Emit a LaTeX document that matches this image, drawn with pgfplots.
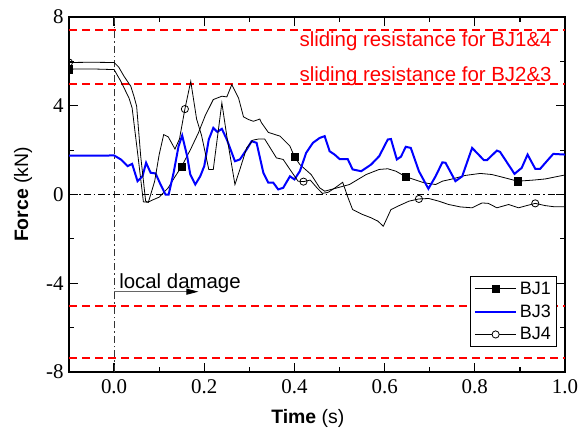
\documentclass[border=0pt]{standalone}
\usepackage{fontspec}
\setmainfont{Liberation Sans}
\newfontfamily\numfont{Liberation Serif}
\usepackage{pgfplots}
\usepackage{pgfplotstable}
\pgfplotsset{compat=1.18}
\usetikzlibrary{arrows.meta}

% Joint force histories (time in s, force in kN)
\pgfplotstableread{
t f
-0.1 5.65
-0.05 5.66
0.0 5.63
0.015 5.1
0.033 4.35
0.04 3.9
0.053 1.73
0.065 -0.33
0.075 -0.35
0.085 -0.25
0.1 -0.12
0.12 0.3
0.135 0.8
0.15 1.27
0.17 2.05
0.187 2.78
0.202 3.55
0.22 4.28
0.239 4.43
0.25 4.4
0.261 4.95
0.276 4.35
0.287 3.5
0.298 3.38
0.309 3.3
0.323 3.4
0.327 3.23
0.342 2.8
0.368 2.63
0.39 2.18
0.4 1.7
0.412 1.35
0.437 0.9
0.456 0.3
0.467 0.15
0.482 0.23
0.522 0.45
0.559 0.9
0.588 1.13
0.607 1.16
0.625 1.05
0.647 0.8
0.687 0.53
0.713 0.45
0.728 0.6
0.75 0.7
0.779 0.86
0.812 0.95
0.838 0.9
0.867 0.75
0.895 0.6
0.93 0.65
0.956 0.7
1.0 0.88
}\bjone

\pgfplotstableread{
t f
-0.1 1.75
-0.05 1.75
0.0 1.76
0.015 1.58
0.03 1.28
0.04 1.38
0.052 0.6
0.063 0.82
0.071 1.43
0.081 0.98
0.092 0.95
0.103 0.45
0.114 0.0
0.121 0.0
0.132 0.98
0.143 2.18
0.151 2.66
0.162 1.73
0.169 0.9
0.18 0.45
0.191 0.82
0.2 1.28
0.21 2.48
0.22 3.0
0.229 2.82
0.239 2.96
0.25 2.48
0.268 1.5
0.279 1.58
0.294 2.03
0.305 2.4
0.316 2.33
0.331 0.98
0.342 0.53
0.353 0.53
0.364 0.23
0.375 0.3
0.39 0.82
0.4 0.68
0.412 1.05
0.426 1.88
0.441 2.33
0.456 2.55
0.467 2.63
0.478 1.95
0.489 1.8
0.5 1.6
0.518 1.6
0.529 1.13
0.548 1.05
0.57 1.35
0.588 1.73
0.607 2.48
0.614 2.5
0.627 1.58
0.636 1.7
0.647 2.15
0.658 2.1
0.676 1.05
0.697 0.26
0.713 0.82
0.728 1.45
0.735 1.43
0.757 0.6
0.772 0.82
0.794 2.1
0.82 1.55
0.827 1.55
0.849 1.98
0.856 1.92
0.888 0.93
0.904 1.2
0.917 1.8
0.934 1.16
0.945 1.16
0.963 1.58
0.974 1.83
1.0 1.8
}\bjthree

\pgfplotstableread{
t f
-0.1 5.95
-0.05 5.96
0.0 5.95
0.01 5.75
0.022 5.33
0.037 4.88
0.044 4.43
0.05 3.98
0.059 1.73
0.07 -0.3
0.076 -0.35
0.09 0.6
0.1 1.8
0.11 2.7
0.12 2.6
0.135 2.05
0.145 2.5
0.157 3.85
0.17 5.1
0.183 3.4
0.194 2.66
0.21 1.13
0.22 1.13
0.239 4.13
0.25 2.63
0.268 0.45
0.279 1.13
0.294 2.1
0.308 2.45
0.32 2.5
0.334 2.5
0.353 1.88
0.36 1.65
0.375 1.58
0.39 1.13
0.408 0.6
0.42 0.58
0.435 0.65
0.45 0.3
0.462 0.05
0.475 0.1
0.49 0.3
0.507 0.55
0.518 -0.1
0.529 -0.68
0.551 -0.9
0.57 -1.05
0.585 -1.2
0.597 -1.43
0.614 -0.68
0.629 -0.53
0.654 -0.3
0.676 -0.2
0.698 -0.18
0.72 -0.3
0.742 -0.45
0.768 -0.56
0.794 -0.6
0.816 -0.38
0.83 -0.4
0.849 -0.6
0.875 -0.45
0.897 -0.6
0.915 -0.5
0.934 -0.4
0.956 -0.5
0.975 -0.55
1.0 -0.55
}\bjfour

% Marker positions along the curves
\pgfplotstableread{
t f
-0.1 5.65
0.15 1.27
0.4 1.7
0.647 0.8
0.895 0.6
}\bjonemarks

\pgfplotstableread{
t f
-0.1 5.95
0.157 3.85
0.42 0.58
0.676 -0.2
0.934 -0.4
}\bjfourmarks

\definecolor{bjblue}{RGB}{0,0,255}
\definecolor{limred}{RGB}{255,0,0}

\begin{document}
\begin{tikzpicture}
\useasboundingbox (0,0) rectangle (581bp,433bp);
\begin{axis}[
  at={(69bp,61bp)}, anchor=south west,
  scale only axis, width=496bp, height=355bp,
  xmin=-0.1, xmax=1.0, ymin=-8, ymax=8,
  xtick={0,0.2,0.4,0.6,0.8,1.0},
  xticklabels={0.0,0.2,0.4,0.6,0.8,1.0},
  minor xtick={0.1,0.3,0.5,0.7,0.9},
  ytick={-8,-4,0,4,8},
  yticklabels={-8,-4,0,4,8},
  minor ytick={-6,-2,2,6},
  tick align=inside,
  major tick length=9bp, minor tick length=5bp,
  every tick/.style={black, line width=1.2bp},
  axis line style={line width=1.8bp},
  tick label style={font=\fontsize{21}{24}\numfont},
  xticklabel style={yshift=-4bp},
  yticklabel style={xshift=-2bp},
  xlabel={\textbf{Time} (s)},
  ylabel={\textbf{Force} (kN)},
  label style={font=\fontsize{19.5}{23}\selectfont},
  xlabel style={at={(axis description cs:0.4815,-0.1437)}, anchor=base},
  ylabel style={at={(axis description cs:-0.0927,0.5)}, anchor=center},
  clip marker paths=true,
  legend cell align=left,
  legend style={at={(rel axis cs:0.9833,0.0696)}, anchor=south east,
    draw=black, line width=0.8bp, font=\fontsize{18}{22}\selectfont,
    inner xsep=3bp, inner ysep=3bp, row sep=4bp,
    nodes={inner sep=2.5bp}},
  legend image code/.code={\draw[mark repeat=2, mark phase=2, #1]
    plot coordinates {(0bp,0bp) (20.8bp,0bp) (41.6bp,0bp)};},
]
% sliding resistance levels
\addplot[color=limred, line width=1.8bp, dash pattern=on 8bp off 5bp, forget plot] coordinates {(-0.1,7.43) (1,7.43)};
\addplot[color=limred, line width=1.8bp, dash pattern=on 8bp off 5bp, forget plot] coordinates {(-0.1,4.97) (1,4.97)};
\addplot[color=limred, line width=1.8bp, dash pattern=on 8bp off 5bp, forget plot] coordinates {(-0.1,-5.03) (1,-5.03)};
\addplot[color=limred, line width=1.8bp, dash pattern=on 8bp off 5bp, forget plot] coordinates {(-0.1,-7.37) (1,-7.37)};
% reference axes
\addplot[black!80, line width=0.8bp, dash pattern=on 7bp off 3bp on 1.5bp off 3bp, forget plot] coordinates {(0,-8) (0,8)};
\addplot[black, line width=0.8bp, dash pattern=on 7bp off 3bp on 1.5bp off 3bp, forget plot] coordinates {(-0.1,0) (1,0)};

% force histories
\addplot[black, line width=0.8bp, forget plot] table {\bjone};
\addplot[black, only marks, mark=square*, mark size=3.6bp, forget plot] table {\bjonemarks};
\addplot[bjblue, line width=2bp, forget plot] table {\bjthree};
\addplot[black, line width=0.8bp, forget plot] table {\bjfour};
\addplot[black, only marks, mark=o, mark size=3.6bp, mark options={fill=white, line width=0.8bp}, forget plot] table {\bjfourmarks};

\addlegendimage{black, line width=0.8bp, mark=square*, mark size=3.6bp}
\addlegendentry{BJ1}
\addlegendimage{bjblue, line width=2bp}
\addlegendentry{BJ3}
\addlegendimage{black, line width=0.8bp, mark=*, mark size=3.6bp, mark options={fill=white}}
\addlegendentry{BJ4}

\node[anchor=base east, text=red, font=\fontsize{20.5}{24}\selectfont] at (axis cs:0.978,6.65) {sliding resistance for BJ1\&4};
\node[anchor=base east, text=red, font=\fontsize{20.5}{24}\selectfont] at (axis cs:0.978,5.11) {sliding resistance for BJ2\&3};
\node[anchor=base west, inner sep=0pt, font=\fontsize{20.5}{24}\selectfont] at (axis cs:0.011,-4.24) {local damage};
\draw[black!60, line width=0.9bp, -{Triangle[black, length=12bp, width=6bp]}] (axis cs:0,-4.38) -- (axis cs:0.187,-4.38);
\end{axis}
\end{tikzpicture}
\end{document}
